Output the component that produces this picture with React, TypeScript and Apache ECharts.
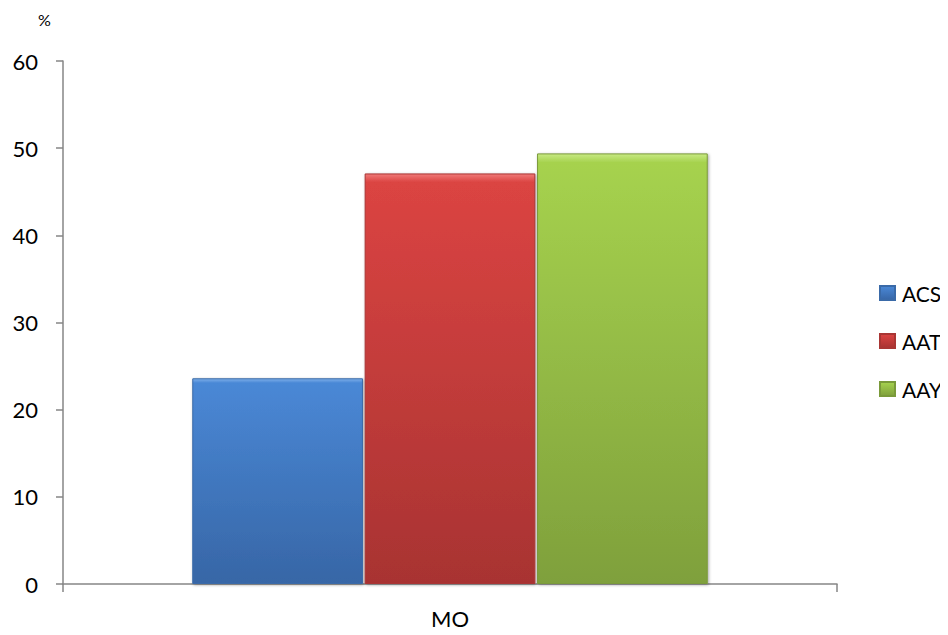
import React, { useEffect, useRef } from "react";
import * as echarts from "echarts";

const categories = ["MO"];
const seriesNames = ["ACS", "AAT", "AAY"];
const acsValues = [23.6];
const aatValues = [47.1];
const aayValues = [49.4];
const yTicks = { min: 0, max: 60, interval: 10 };

const FONT = "Lato, 'Liberation Sans', sans-serif";

const grad = (top: string, mid: string, bottom: string) =>
  new echarts.graphic.LinearGradient(0, 0, 0, 1, [
    { offset: 0, color: top },
    { offset: 0.02, color: mid },
    { offset: 1, color: bottom },
  ]);

export default function App() {
  const ref = useRef<HTMLDivElement>(null);
  useEffect(() => {
    if (!ref.current) return;
    const chart = echarts.init(ref.current, null, { renderer: "svg" });
    const mk = (name: string, data: number[], top: string, mid: string, bottom: string, border: string) => ({
      name,
      type: "bar",
      data,
      barGap: "1%",
      barCategoryGap: "33.4%",
      itemStyle: {
        color: grad(top, mid, bottom),
        borderColor: border,
        borderWidth: 1,
        shadowColor: "rgba(0,0,0,0.35)",
        shadowBlur: 3,
        shadowOffsetX: 1,
        shadowOffsetY: 1,
      },
    });
    chart.setOption({
      animation: false,
      backgroundColor: "#ffffff",
      textStyle: { fontFamily: FONT },
      grid: { left: 63, right: 111, top: 61, bottom: 51, containLabel: false },
      legend: {
        orient: "vertical",
        left: 879,
        top: 281,
        padding: 0,
        itemWidth: 15,
        itemHeight: 14,
        itemGap: 24,
        icon: "rect",
        textStyle: { fontSize: 21, color: "#000", fontFamily: FONT, lineHeight: 24, padding: [0, 0, 0, 2] },
        data: seriesNames,
      },
      xAxis: {
        type: "category",
        data: categories,
        axisLine: { lineStyle: { color: "#868686", width: 1.5 } },
        axisTick: { show: true, length: 8, lineStyle: { color: "#868686", width: 1.5 } },
        axisLabel: { fontSize: 22, color: "#000", margin: 23, fontFamily: FONT },
      },
      yAxis: {
        type: "value",
        min: yTicks.min,
        max: yTicks.max,
        interval: yTicks.interval,
        splitLine: { show: false },
        axisLine: { show: true, lineStyle: { color: "#868686", width: 1.5 } },
        axisTick: { show: true, length: 7, lineStyle: { color: "#868686", width: 1.5 } },
        axisLabel: { fontSize: 22, color: "#000", margin: 25, fontFamily: FONT },
      },
      graphic: [
        {
          type: "text",
          left: 38,
          top: 11,
          style: { text: "%", fontSize: 16, fill: "#000", fontFamily: FONT },
        },
      ],
      series: [
        mk(seriesNames[0], acsValues, "#7fb0ea", "#4a88d6", "#3766a6", "#3a6aa8"),
        mk(seriesNames[1], aatValues, "#f07a78", "#db4442", "#a83332", "#a93634"),
        mk(seriesNames[2], aayValues, "#c8ea84", "#a6d24e", "#7fa03c", "#7a9a3a"),
      ],
    });
    return () => chart.dispose();
  }, []);
  return <div ref={ref} style={{ width: 948, height: 635, margin: -8 }} />;
}
